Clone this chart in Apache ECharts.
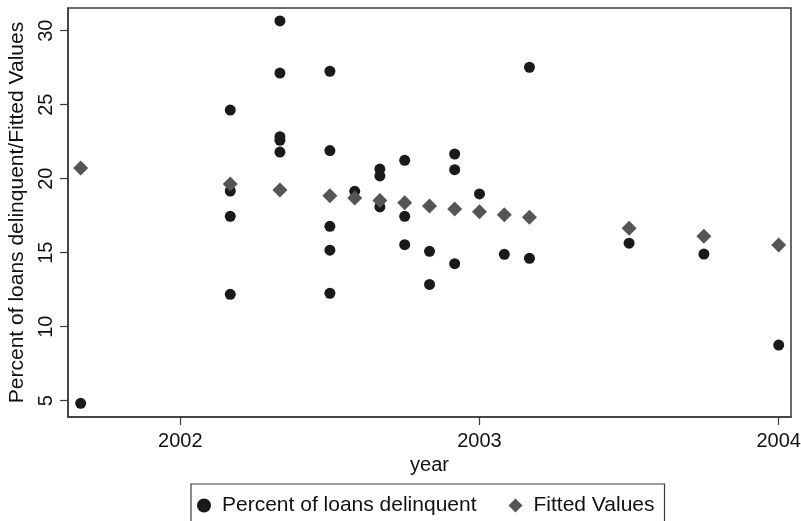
<!DOCTYPE html>
<html>
<head>
<meta charset="utf-8">
<script src="https://cdn.jsdelivr.net/npm/echarts@6/dist/echarts.min.js"></script>
<style>html,body{margin:0;padding:0;background:#fff}#c{width:801px;height:521px}</style>
</head>
<body>
<div id="c"></div>
<script>
// Percent of loans delinquent (x = year + month/12)
const delinqX = [2001.667,
  2002.167, 2002.167, 2002.167, 2002.167,
  2002.333, 2002.333, 2002.333, 2002.333, 2002.333,
  2002.5, 2002.5, 2002.5, 2002.5, 2002.5,
  2002.583,
  2002.667, 2002.667, 2002.667,
  2002.75, 2002.75, 2002.75,
  2002.833, 2002.833,
  2002.917, 2002.917, 2002.917,
  2003.0,
  2003.083,
  2003.167, 2003.167,
  2003.5,
  2003.75,
  2004.0];
const delinqY = [4.82,
  24.64, 19.17, 17.46, 12.19,
  30.66, 27.14, 22.84, 22.59, 21.80,
  27.26, 21.90, 16.78, 15.17, 12.26,
  19.15,
  20.65, 20.19, 18.09,
  21.24, 17.46, 15.54,
  15.09, 12.86,
  21.67, 20.61, 14.26,
  18.97,
  14.89,
  27.53, 14.62,
  15.64,
  14.91,
  8.76];
// Fitted values
const fittedX = [2001.667, 2002.167, 2002.333, 2002.5, 2002.583, 2002.667, 2002.75, 2002.833, 2002.917, 2003.0, 2003.083, 2003.167, 2003.5, 2003.75, 2004.0];
const fittedY = [20.72, 19.64, 19.24, 18.84, 18.69, 18.52, 18.38, 18.16, 17.95, 17.77, 17.57, 17.39, 16.65, 16.11, 15.52];
const xTicks = [2002, 2003, 2004];
const yTicks = [5, 10, 15, 20, 25, 30];
const seriesNames = ['Percent of loans delinquent', 'Fitted Values'];
const xTitle = 'year';
const yTitle = 'Percent of loans delinquent/Fitted Values';

const font = '"Liberation Sans", Arial, Helvetica, sans-serif';
const frame = '#3a3a3a';
const ink = '#111';
const chart = echarts.init(document.getElementById('c'), null, {renderer: 'canvas'});
chart.setOption({
  animation: false,
  backgroundColor: '#fff',
  textStyle: {fontFamily: font},
  grid: {left: 68, right: 10, top: 8, bottom: 104, outerBoundsMode: 'none', containLabel: false,
         show: true, borderColor: frame, borderWidth: 1.5, backgroundColor: '#fff'},
  legend: {
    left: 191, top: 484,
    padding: [11, 10, 20, 6],
    borderColor: frame, borderWidth: 1.2,
    itemWidth: 14, itemHeight: 14, itemGap: 32,
    textStyle: {fontSize: 21, color: ink, fontFamily: font, padding: [0, 0, 0, 6]},
    data: [
      {name: seriesNames[0], icon: 'circle', itemStyle: {color: '#1a1a1a', opacity: 1}},
      {name: seriesNames[1], icon: 'diamond', itemStyle: {color: '#555', opacity: 1}}
    ]
  },
  xAxis: {
    type: 'value', min: 2001.6247, max: 2004.0411,
    name: xTitle, nameLocation: 'middle', nameGap: 38,
    nameTextStyle: {fontSize: 20, color: ink, fontFamily: font},
    axisLine: {show: true, onZero: false, lineStyle: {color: frame, width: 1.5}},
    axisTick: {show: true, length: 8, customValues: xTicks, lineStyle: {color: frame, width: 1.2}},
    axisLabel: {fontSize: 20, color: ink, margin: 14, customValues: xTicks, formatter: v => String(Math.round(v))},
    splitLine: {show: false}
  },
  yAxis: {
    type: 'value', min: 3.899, max: 31.534,
    name: yTitle, nameLocation: 'middle', nameGap: 39, nameRotate: 90,
    nameTextStyle: {fontSize: 21, color: ink, fontFamily: font},
    axisLine: {show: true, onZero: false, lineStyle: {color: frame, width: 1.5}},
    axisTick: {show: true, length: 8, customValues: yTicks, lineStyle: {color: frame, width: 1.2}},
    axisLabel: {fontSize: 20, color: ink, margin: 12, rotate: 90, customValues: yTicks},
    splitLine: {show: false}
  },
  series: [
    {
      name: seriesNames[0], type: 'scatter', symbol: 'circle', symbolSize: 11,
      itemStyle: {color: '#1a1a1a', opacity: 1},
      data: delinqX.map((x, i) => [x, delinqY[i]])
    },
    {
      name: seriesNames[1], type: 'scatter', symbol: 'diamond', symbolSize: 15,
      itemStyle: {color: '#555', opacity: 1},
      data: fittedX.map((x, i) => [x, fittedY[i]])
    }
  ]
});
</script>
</body>
</html>
